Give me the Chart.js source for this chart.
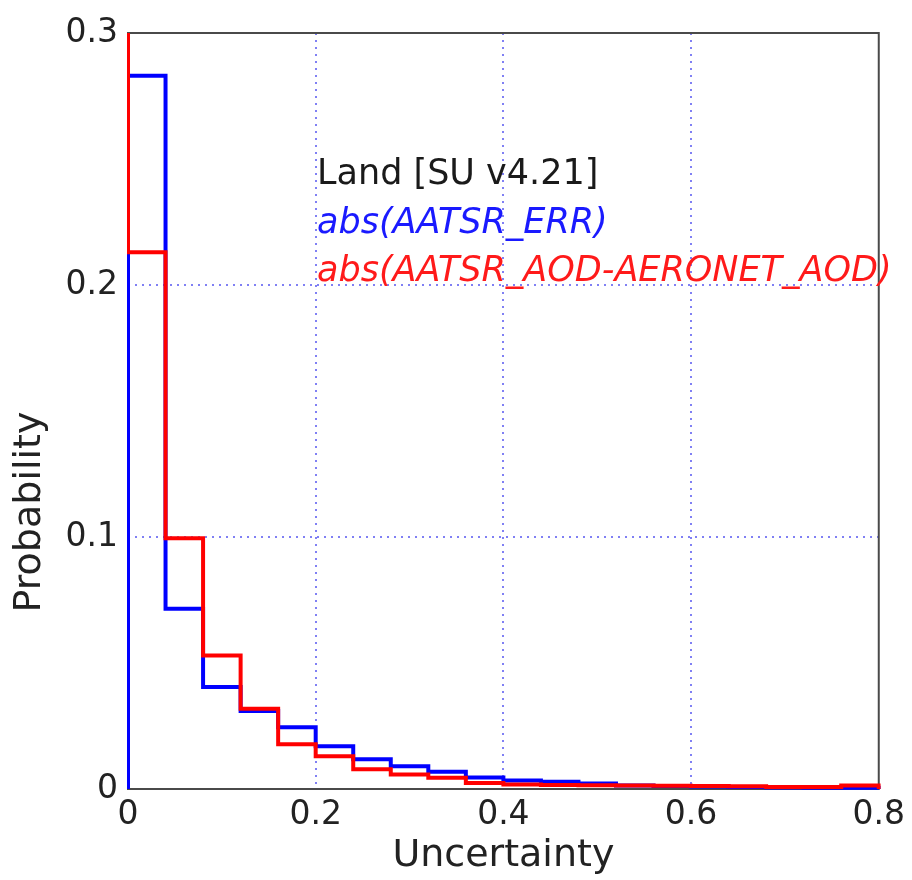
<!DOCTYPE html>
<html>
<head>
<meta charset="utf-8">
<title>Uncertainty histogram</title>
<script src="https://cdn.jsdelivr.net/npm/chart.js@4.4.1/dist/chart.umd.min.js"></script>
<style>
  html, body { margin: 0; padding: 0; background: #fff; }
  #wrap { width: 912px; height: 880px; }
</style>
</head>
<body>
<div id="wrap"><canvas id="histChart" width="912" height="880"></canvas></div>
<script>
// left edges of the histogram bins
const binLefts = [0, 0.04, 0.08, 0.12, 0.16, 0.2, 0.24, 0.28, 0.32, 0.36,
                  0.4, 0.44, 0.48, 0.52, 0.56, 0.6, 0.64, 0.68, 0.72, 0.76];
const binRight = 0.8;

// abs(AATSR_ERR)
const errValues = [0.283, 0.0715, 0.0405, 0.031, 0.0245, 0.017, 0.0118, 0.009, 0.0068, 0.0046,
                   0.0034, 0.0029, 0.0022, 0.0014, 0.0012, 0.0010, 0.0008, 0.0006, 0.0005, 0.0005];
// abs(AATSR_AOD-AERONET_AOD)
const diffValues = [0.213, 0.0995, 0.053, 0.0318, 0.0178, 0.013, 0.0078, 0.0058, 0.0045, 0.0024,
                    0.0018, 0.0016, 0.0015, 0.0014, 0.0013, 0.0012, 0.0011, 0.0008, 0.0008, 0.0014];
// the red outline comes down the left edge from the top of the axes
const diffLeftTop = 0.3;

const xTickLabels = ['0', '0.2', '0.4', '0.6', '0.8'];
const yTickLabels = ['0', '0.1', '0.2', '0.3'];

const legendLines = [
    { text: 'Land [SU v4.21]', color: '#1a1a1a', italic: false },
    { text: 'abs(AATSR_ERR)', color: '#1a1aff', italic: true },
    { text: 'abs(AATSR_AOD-AERONET_AOD)', color: '#ff1a1a', italic: true }
];

// step outline of a histogram
function stepPoints(values, leftTop) {
    const pts = [{ x: binLefts[0], y: leftTop !== undefined ? leftTop : 0 }];
    binLefts.forEach((x, i) => pts.push({ x: x, y: values[i] }));
    pts.push({ x: binRight, y: values[values.length - 1] });
    pts.push({ x: binRight, y: 0 });
    return pts;
}

const FONT = 'DejaVu Sans';
const gridColor = (ctx, n) => (ctx.index > 0 && ctx.index < n - 1) ? '#8080f4' : 'rgba(0,0,0,0)';

// axes frame, drawn under the lines
const framePlugin = {
    id: 'frame',
    beforeDatasetsDraw(chart) {
        const { ctx, chartArea: a } = chart;
        ctx.save();
        ctx.strokeStyle = '#4a4a4a';
        ctx.lineWidth = 2;
        ctx.strokeRect(a.left, a.top, a.right - a.left, a.bottom - a.top);
        ctx.restore();
    }
};

// text block inside the plot and the y axis title
const notePlugin = {
    id: 'note',
    afterDatasetsDraw(chart) {
        const { ctx, chartArea: a } = chart;
        ctx.save();
        ctx.textAlign = 'left';
        ctx.textBaseline = 'alphabetic';
        legendLines.forEach((l, i) => {
            ctx.font = (l.italic ? 'italic ' : '') + '35px "' + FONT + '"';
            ctx.fillStyle = l.color;
            ctx.fillText(l.text, a.left + 189, a.top + 151 + i * 48.5);
        });
        ctx.translate(30, 512);
        ctx.rotate(-Math.PI / 2);
        ctx.textAlign = 'center';
        ctx.textBaseline = 'middle';
        ctx.font = '38px "' + FONT + '"';
        ctx.fillStyle = '#222';
        ctx.fillText('Probability', 0, 0);
        ctx.restore();
    }
};

const ctx = document.getElementById('histChart').getContext('2d');
new Chart(ctx, {
    type: 'line',
    data: {
        datasets: [
            {
                label: 'abs(AATSR_ERR)',
                data: stepPoints(errValues),
                borderColor: '#0000ff',
                borderWidth: 4,
                stepped: true,
                pointRadius: 0,
                fill: false,
                clip: { left: 1, top: 2, right: 2, bottom: 1 },
                order: 1
            },
            {
                label: 'abs(AATSR_AOD-AERONET_AOD)',
                data: stepPoints(diffValues, diffLeftTop),
                borderColor: '#ff0000',
                borderWidth: 4,
                stepped: true,
                pointRadius: 0,
                fill: false,
                clip: { left: 1, top: 2, right: 2, bottom: 1 },
                order: 0
            }
        ]
    },
    options: {
        responsive: false,
        animation: false,
        events: [],
        layout: { padding: { left: 0, top: 33, right: 26, bottom: 0 } },
        plugins: {
            legend: { display: false },
            tooltip: { enabled: false }
        },
        scales: {
            x: {
                type: 'linear',
                min: 0,
                max: 0.8,
                afterFit: (s) => { s.height = 91; },
                ticks: {
                    stepSize: 0.2,
                    padding: 7,
                    color: '#222',
                    font: { family: FONT, size: 33 },
                    maxRotation: 0,
                    callback: (v, i) => xTickLabels[i]
                },
                grid: {
                    color: (c) => gridColor(c, xTickLabels.length),
                    lineWidth: 2,
                    drawTicks: false
                },
                border: { display: false, dash: [2, 5] },
                title: {
                    display: true,
                    text: 'Uncertainty',
                    color: '#222',
                    font: { family: FONT, size: 38 },
                    padding: { top: 0, bottom: 1 }
                }
            },
            y: {
                min: 0,
                max: 0.3,
                afterFit: (s) => { s.width = 128; },
                ticks: {
                    stepSize: 0.1,
                    padding: 10,
                    color: '#222',
                    font: { family: FONT, size: 33 },
                    callback: (v, i) => yTickLabels[i]
                },
                grid: {
                    color: (c) => gridColor(c, yTickLabels.length),
                    lineWidth: 2,
                    drawTicks: false
                },
                border: { display: false, dash: [2, 5] }
            }
        }
    },
    plugins: [framePlugin, notePlugin]
});
</script>
</body>
</html>
